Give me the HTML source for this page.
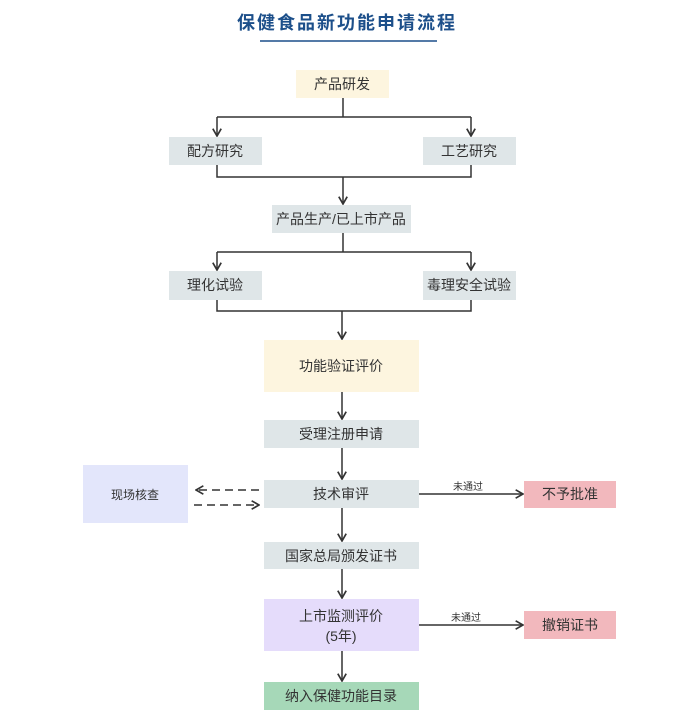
<!DOCTYPE html>
<html><head><meta charset="utf-8"><style>
html,body{margin:0;padding:0;background:#fff;}
svg{display:block;}
text{font-family:"Liberation Sans","Noto Sans CJK SC",sans-serif;fill:#333;}
</style></head><body>
<svg width="694" height="722" viewBox="0 0 694 722" xmlns="http://www.w3.org/2000/svg">
<defs>
<marker id="a" viewBox="0 0 10 10" refX="9" refY="5" markerWidth="7" markerHeight="7" orient="auto"><path d="M2,1 L9,5 L2,9" fill="none" stroke="#333" stroke-width="1.6"/></marker>
</defs>
<text x="347" y="29" text-anchor="middle" font-size="18" font-weight="bold" style="fill:#1c4f8a;letter-spacing:2px">保健食品新功能申请流程</text>
<line x1="260" y1="41" x2="437" y2="41" stroke="#1c4f8a" stroke-width="1.5"/>

<g stroke="#333" stroke-width="1.5" fill="none">
<path d="M343 98 V117 M217 117 H471"/>
<path d="M217 117 V136" marker-end="url(#a)"/>
<path d="M471 117 V136" marker-end="url(#a)"/>
<path d="M217 165 V177 H471 V165"/>
<path d="M343 177 V204" marker-end="url(#a)"/>
<path d="M343 233 V252 M217 252 H471"/>
<path d="M217 252 V270" marker-end="url(#a)"/>
<path d="M471 252 V270" marker-end="url(#a)"/>
<path d="M217 300 V311 H471 V300"/>
<path d="M342 311 V339" marker-end="url(#a)"/>
<path d="M342 392 V419" marker-end="url(#a)"/>
<path d="M342 448 V479" marker-end="url(#a)"/>
<path d="M342 508 V541" marker-end="url(#a)"/>
<path d="M342 569 V598" marker-end="url(#a)"/>
<path d="M342 651 V681" marker-end="url(#a)"/>
<path d="M418 494 H523" marker-end="url(#a)"/>
<path d="M418 625 H523" marker-end="url(#a)"/>
<path d="M259 490 H196" stroke-dasharray="8,5" marker-end="url(#a)"/>
<path d="M194 505 H259" stroke-dasharray="8,5" marker-end="url(#a)"/>
</g>

<rect x="296" y="70" width="93" height="28" fill="#fdf5df"/>
<text x="342" y="89" text-anchor="middle" font-size="14">产品研发</text>
<rect x="169" y="137" width="93" height="28" fill="#dfe6e8"/>
<text x="215" y="156" text-anchor="middle" font-size="14">配方研究</text>
<rect x="423" y="137" width="93" height="28" fill="#dfe6e8"/>
<text x="469" y="156" text-anchor="middle" font-size="14">工艺研究</text>
<rect x="272" y="205" width="139" height="28" fill="#dfe6e8"/>
<text x="341" y="224" text-anchor="middle" font-size="14">产品生产/已上市产品</text>
<rect x="169" y="271" width="93" height="29" fill="#dfe6e8"/>
<text x="215" y="290" text-anchor="middle" font-size="14">理化试验</text>
<rect x="423" y="271" width="93" height="29" fill="#dfe6e8"/>
<text x="469" y="290" text-anchor="middle" font-size="14">毒理安全试验</text>
<rect x="264" y="340" width="155" height="52" fill="#fdf5df"/>
<text x="341" y="371" text-anchor="middle" font-size="14">功能验证评价</text>
<rect x="264" y="420" width="155" height="28" fill="#dfe6e8"/>
<text x="341" y="439" text-anchor="middle" font-size="14">受理注册申请</text>
<rect x="264" y="480" width="155" height="28" fill="#dfe6e8"/>
<text x="341" y="499" text-anchor="middle" font-size="14">技术审评</text>
<rect x="83" y="465" width="105" height="58" fill="#e3e6fb"/>
<text x="135" y="499" text-anchor="middle" font-size="12">现场核查</text>
<rect x="524" y="481" width="92" height="27" fill="#f2b8bd"/>
<text x="570" y="499" text-anchor="middle" font-size="14">不予批准</text>
<text x="468" y="490" text-anchor="middle" font-size="10">未通过</text>
<rect x="264" y="542" width="155" height="27" fill="#dfe6e8"/>
<text x="341" y="561" text-anchor="middle" font-size="14">国家总局颁发证书</text>
<rect x="264" y="599" width="155" height="52" fill="#e5dcfb"/>
<text x="341" y="621" text-anchor="middle" font-size="14">上市监测评价</text>
<text x="341" y="641" text-anchor="middle" font-size="14">(5年)</text>
<rect x="524" y="611" width="92" height="28" fill="#f2b8bd"/>
<text x="570" y="630" text-anchor="middle" font-size="14">撤销证书</text>
<text x="466" y="621" text-anchor="middle" font-size="10">未通过</text>
<rect x="264" y="682" width="155" height="28" fill="#a6d8b8"/>
<text x="341" y="701" text-anchor="middle" font-size="14">纳入保健功能目录</text>
</svg>
</body></html>
